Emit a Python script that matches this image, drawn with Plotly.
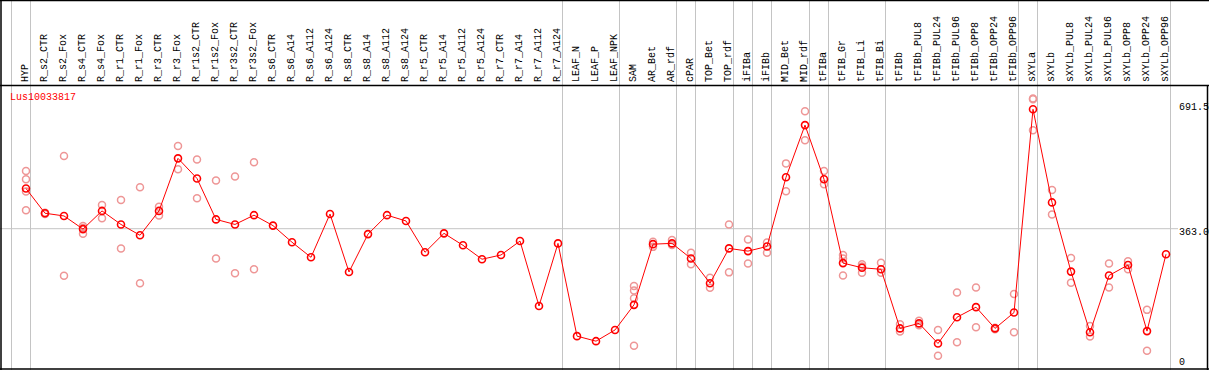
import plotly.graph_objects as go

gene = "Lus10033817"

categories = [
    "HYP", "R_s2_CTR", "R_s2_Fox", "R_s4_CTR", "R_s4_Fox", "R_r1_CTR", "R_r1_Fox",
    "R_r3_CTR", "R_r3_Fox", "R_r1s2_CTR", "R_r1s2_Fox", "R_r3s2_CTR", "R_r3s2_Fox",
    "R_s6_CTR", "R_s6_A14", "R_s6_A112", "R_s6_A124", "R_s8_CTR", "R_s8_A14",
    "R_s8_A112", "R_s8_A124", "R_r5_CTR", "R_r5_A14", "R_r5_A112", "R_r5_A124",
    "R_r7_CTR", "R_r7_A14", "R_r7_A112", "R_r7_A124", "LEAF_N", "LEAF_P", "LEAF_NPK",
    "SAM", "AR_Bet", "AR_rdf", "cPAR", "TOP_Bet", "TOP_rdf", "iFIBa", "iFIBb",
    "MID_Bet", "MID_rdf", "tFIBa", "tFIB_Gr", "tFIB_Li", "tFIB_Bi", "tFIBb",
    "tFIBb_PUL8", "tFIBb_PUL24", "tFIBb_PUL96", "tFIBb_OPP8", "tFIBb_OPP24",
    "tFIBb_OPP96", "sXYLa", "sXYLb", "sXYLb_PUL8", "sXYLb_PUL24", "sXYLb_PUL96",
    "sXYLb_OPP8", "sXYLb_OPP24", "sXYLb_OPP96",
]

means = [
    467, 403, 396, 362, 409, 374, 346, 409, 545, 493, 387, 374, 398,
    371, 328, 289, 401, 251, 349, 398, 383, 302, 351, 320, 284,
    295, 331, 163, 325, 85, 72, 101,
    166, 323, 325, 286, 222, 312, 305, 317,
    496, 631, 491, 274, 262, 258, 105,
    118, 66, 134, 160, 105, 146,
    672, 431, 252, 95, 242, 269, 98, 297,
]

replicates = [
    [512, 491, 459, 411], [404, 401], [551, 241], [370, 365, 350], [424, 390],
    [437, 312], [470, 222], [420, 397], [577, 517], [542, 442], [488, 286],
    [498, 248], [535, 258],
    [], [], [], [], [], [], [], [], [], [], [], [],
    [], [], [], [], [], [], [],
    [215, 203, 183, 60], [329, 316], [334, 321], [301, 271], [236, 210],
    [374, 250], [335, 273], [327, 301],
    [532, 460], [667, 592], [512, 478], [295, 286, 242], [271, 265, 249],
    [275, 249], [116, 97],
    [125, 113], [101, 34], [198, 69], [211, 108], [107, 103], [194, 95],
    [700, 698, 618], [463, 400], [287, 223], [111, 84], [273, 211],
    [279, 258], [153, 47], [],
]

group_ends = [-1, 0, 28, 31, 34, 35, 37, 38, 39, 41, 42, 45, 52, 53, 60]

axis_labels = ["691.5", "363.0", "0"]
axis_values = [691.5, 363.0, 0]

W, H = 1209, 370
X0_PX, DX_PX = 26, 19.0
Y0_PX, DY_PX = 369, 0.3865

xrange = [-X0_PX / DX_PX, (W - X0_PX) / DX_PX]
yrange = [(Y0_PX - H) / DY_PX, Y0_PX / DY_PX]


def py(p):
    return 1 - p / H


def px(p):
    return p / W


fig = go.Figure()

rx, ry = [], []
for j, vals in enumerate(replicates):
    for v in vals:
        rx.append(j)
        ry.append(v)

fig.add_trace(go.Scatter(
    x=rx, y=ry, mode="markers",
    marker=dict(symbol="circle-open", size=7, color="#ee9696", line=dict(width=1.5)),
    hoverinfo="skip", showlegend=False,
))

fig.add_trace(go.Scatter(
    x=list(range(len(categories))), y=means, mode="lines+markers",
    line=dict(color="#ff0000", width=1),
    marker=dict(symbol="circle-open", size=7, color="#ff0000", line=dict(width=1.6)),
    text=categories, showlegend=False,
))

shapes = []
gray = "#c4c4c4"
for g in group_ends:
    xv = g + 0.237
    shapes.append(dict(type="line", xref="x", yref="paper", x0=xv, x1=xv, y0=0, y1=1,
                       line=dict(color=gray, width=1), layer="below"))
shapes.append(dict(type="line", xref="paper", yref="y", x0=0, x1=px(1178), y0=363.0, y1=363.0,
                   line=dict(color=gray, width=1), layer="below"))
black = "#000000"
for (x0, y0, x1, y1) in [(0, 0.5, W, 0.5), (0, 85.5, W, 85.5), (0, 369, W, 369),
                         (1, 0, 1, H), (1207.5, 85, 1207.5, H)]:
    shapes.append(dict(type="line", xref="paper", yref="paper",
                       x0=px(x0), x1=px(x1), y0=py(y0), y1=py(y1),
                       line=dict(color=black, width=1.5)))

font = "Liberation Mono"
annotations = []
for j, c in enumerate(categories):
    annotations.append(dict(
        x=j, y=py(83), xref="x", yref="paper", text=c, showarrow=False,
        textangle=-90, xanchor="center", yanchor="bottom", xshift=-1,
        font=dict(family=font, size=10, color="#000000"), borderpad=0,
    ))

annotations.append(dict(
    x=px(9), y=py(97), xref="paper", yref="paper", text=gene, showarrow=False,
    xanchor="left", yanchor="middle", font=dict(family=font, size=10, color="#ff0000"),
    borderpad=0,
))

label_centers = [107.5, 232.5, 362]
for lab, yc in zip(axis_labels, label_centers):
    annotations.append(dict(
        x=px(1178), y=py(yc), xref="paper", yref="paper", text=lab, showarrow=False,
        xanchor="left", yanchor="middle", font=dict(family=font, size=10, color="#000000"),
        borderpad=0,
    ))

fig.update_layout(
    width=W, height=H,
    margin=dict(l=0, r=0, t=0, b=0),
    paper_bgcolor="white", plot_bgcolor="white",
    xaxis=dict(range=xrange, visible=False, fixedrange=True),
    yaxis=dict(range=yrange, visible=False, fixedrange=True),
    shapes=shapes, annotations=annotations,
    showlegend=False,
)

fig.write_html(
    "out.html",
    config={"displayModeBar": False},
    post_script="document.body.style.margin='0';document.body.style.overflow='hidden';",
)
